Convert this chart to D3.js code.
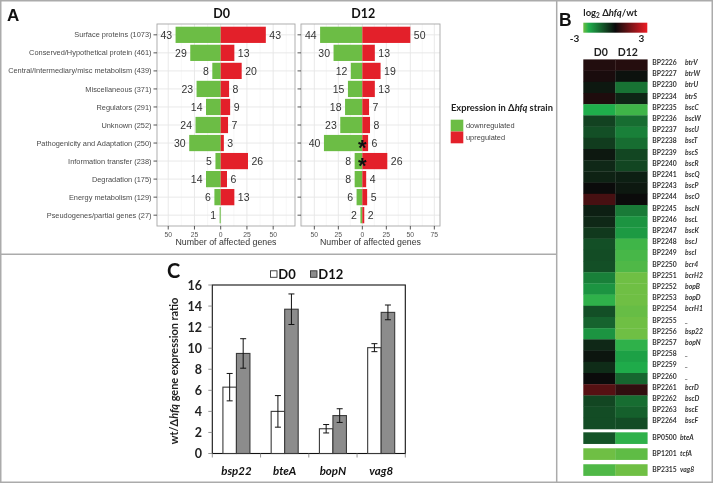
<!DOCTYPE html>
<html><head><meta charset="utf-8">
<script src="https://cdn.jsdelivr.net/npm/d3@7"></script>
<style>body{margin:0;background:#fff}svg{display:block;will-change:transform}</style>
</head><body>
<svg id="c" width="713" height="483"></svg>
<script>
// ---------- Panel A data ----------
const categories = ["Surface proteins (1073)","Conserved/Hypothetical protein (461)","Central/Intermediary/misc metabolism (439)","Miscellaneous (371)","Regulators (291)","Unknown (252)","Pathogenicity and Adaptation (250)","Information transfer (238)","Degradation (175)","Energy metabolism (129)","Pseudogenes/partial genes (27)"];
const d0Down  = [43,29,8,23,14,24,30,5,14,6,1];
const d0Up    = [43,13,20,8,9,7,3,26,6,13,0];
const d12Down = [44,30,12,15,18,23,40,8,8,6,2];
const d12Up   = [50,13,19,13,7,8,6,26,4,5,2];
const d12Stars = ["Pathogenicity and Adaptation (250)","Information transfer (238)"];
const ticksD0  = [-50,-25,0,25,50];
const ticksD12 = [-50,-25,0,25,50,75];
const legendA = ["downregulated","upregulated"];

// ---------- Panel B data ----------
const heatIds   = ["BP2226","BP2227","BP2230","BP2234","BP2235","BP2236","BP2237","BP2238","BP2239","BP2240","BP2241","BP2243","BP2244","BP2245","BP2246","BP2247","BP2248","BP2249","BP2250","BP2251","BP2252","BP2253","BP2254","BP2255","BP2256","BP2257","BP2258","BP2259","BP2260","BP2261","BP2262","BP2263","BP2264"];
const heatGenes = ["btrV","btrW","btrU","btrS","bscC","bscW","bscU","bscT","bscS","bscR","bscQ","bscP","bscO","bscN","bscL","bscK","bscJ","bscI","bcr4","bcrH2","bopB","bopD","bcrH1","_","bsp22","bopN","_","_","_","bcrD","bscD","bscE","bscF"];
const heatD0    = [0.3,0.2,-0.2,0.25,-2.5,-0.85,-1.05,-0.75,-0.2,-0.45,-0.35,0,0.8,-0.3,-0.45,-0.7,-1.05,-1.0,-1.05,-1.8,-2.1,-2.6,-1.05,-1.35,-2.1,-0.45,-0.15,-0.5,0,1.0,-0.9,-1.0,-1.0];
const heatD12   = [0.35,-0.1,-1.6,-0.4,-2.7,-1.5,-1.8,-1.5,-0.9,-0.9,-0.3,-0.2,0,-1.7,-2.1,-2.2,-2.7,-2.75,-2.8,-3,-3,-3,-2.95,-3,-3,-2.6,-2.3,-2.45,-1.4,0.5,-1.5,-1.3,-1.0];
const extraIds   = ["BP0500","BP1201","BP2315"];
const extraGenes = ["bteA","tcfA","vag8"];
const extraD0    = [-1.1,-3,-2.8];
const extraD12   = [-2.6,-2.9,-3];
const heatCols = ["D0","D12"];

// ---------- Panel C data ----------
const genesC = ["bsp22","bteA","bopN","vag8"];
const cD0     = [6.3,4.0,2.35,10.05];
const cD0Err  = [1.3,1.5,0.4,0.38];
const cD12    = [9.5,13.7,3.6,13.4];
const cD12Err = [1.4,1.45,0.65,0.7];
const cTicks  = [0,2,4,6,8,10,12,14,16];

const svg = d3.select("#c");
const SANS = "'Liberation Sans', Arial, sans-serif";
const CAL = "Lato, 'Open Sans', sans-serif";
const GREEN = "#6cbd45", RED = "#e3202a";

function measure(txt, size, weight, style, family){
  const t = svg.append("text").attr("font-family",family).attr("font-size",size)
    .attr("font-weight",weight).attr("font-style",style).text(txt);
  const w = t.node().getComputedTextLength(); t.remove(); return w;
}
function fit(txt, target, weight, style, family){ return 100*target/measure(txt,100,weight,style,family); }

svg.append("rect").attr("width",713).attr("height",483).attr("fill","#fff");

// ================= PANEL A =================
const yA = d3.scalePoint().domain(categories).range([24,226]).padding(0.6);
const stepA = yA.step(), barH = stepA*0.9;

svg.append("text").attr("x",7).attr("y",20.7).attr("font-family",SANS).attr("font-weight","bold")
  .attr("font-size",17).attr("fill","#111").text("A");

function facet(xs, down, up, ticks, title, stars, withLabels){
  const [x0,x1] = xs.range(), [dmin,dmax] = xs.domain();
  const g = svg.append("g");
  g.append("rect").attr("x",x0).attr("y",24).attr("width",x1-x0).attr("height",202).attr("fill","#fff");
  const minors = [];
  for (let v = ticks[0]-12.5; v <= dmax; v += 25) if (v >= dmin) minors.push(v);
  g.selectAll(".mn").data(minors).join("line").attr("x1",d=>xs(d)).attr("x2",d=>xs(d))
    .attr("y1",24).attr("y2",226).attr("stroke","#f2f2f2").attr("stroke-width",0.6);
  g.selectAll(".mj").data(ticks).join("line").attr("x1",d=>xs(d)).attr("x2",d=>xs(d))
    .attr("y1",24).attr("y2",226).attr("stroke","#e6e6e6").attr("stroke-width",0.9);
  g.selectAll(".hz").data(categories).join("line").attr("x1",x0).attr("x2",x1)
    .attr("y1",d=>yA(d)).attr("y2",d=>yA(d)).attr("stroke","#e6e6e6").attr("stroke-width",0.9);
  g.selectAll(".dn").data(categories).join("rect")
    .attr("x",(d,i)=>xs(-down[i])).attr("width",(d,i)=>xs(0)-xs(-down[i]))
    .attr("y",d=>yA(d)-barH/2).attr("height",barH).attr("fill",GREEN);
  g.selectAll(".up").data(categories).join("rect")
    .attr("x",xs(0)).attr("width",(d,i)=>xs(up[i])-xs(0))
    .attr("y",d=>yA(d)-barH/2).attr("height",barH).attr("fill",RED);
  g.selectAll(".ldn").data(categories).join("text")
    .attr("x",(d,i)=>xs(-down[i])-3.5).attr("y",d=>yA(d)).attr("dy","0.36em")
    .attr("text-anchor","end").attr("font-family",SANS).attr("font-size",10.5).attr("fill","#333")
    .text((d,i)=>down[i]);
  g.selectAll(".lup").data(categories.filter((d,i)=>up[i]>0)).join("text")
    .attr("x",d=>xs(up[categories.indexOf(d)])+3.5).attr("y",d=>yA(d)).attr("dy","0.36em")
    .attr("font-family",SANS).attr("font-size",10.5).attr("fill","#333")
    .text(d=>up[categories.indexOf(d)]);
  g.selectAll(".st").data(stars).join("text").attr("x",xs(0)).attr("y",d=>yA(d)+12)
    .attr("text-anchor","middle").attr("font-family",SANS).attr("font-weight","bold")
    .attr("font-size",22).attr("fill","#111").text("*");
  g.append("rect").attr("x",x0).attr("y",24).attr("width",x1-x0).attr("height",202)
    .attr("fill","none").attr("stroke","#a6a6a6").attr("stroke-width",0.9);
  g.selectAll(".yt").data(categories).join("line").attr("x1",x0-3.5).attr("x2",x0)
    .attr("y1",d=>yA(d)).attr("y2",d=>yA(d)).attr("stroke","#444").attr("stroke-width",0.9);
  if (withLabels){
    g.selectAll(".yl").data(categories).join("text").attr("x",x0-5.5).attr("y",d=>yA(d)).attr("dy","0.35em")
      .attr("text-anchor","end").attr("font-family",SANS).attr("font-size",7.4).attr("fill","#4a4a4a").text(d=>d);
  }
  g.selectAll(".xt").data(ticks).join("line").attr("x1",d=>xs(d)).attr("x2",d=>xs(d))
    .attr("y1",226).attr("y2",229.5).attr("stroke","#444").attr("stroke-width",0.9);
  g.selectAll(".xl").data(ticks).join("text").attr("x",d=>xs(d)).attr("y",237.3)
    .attr("text-anchor","middle").attr("font-family",SANS).attr("font-size",6.8).attr("fill","#555")
    .text(d=>Math.abs(d));
  g.append("text").attr("x",(x0+x1)/2).attr("y",245).attr("text-anchor","middle")
    .attr("font-family",SANS).attr("font-size",8.8).attr("fill","#333").text("Number of affected genes");
  g.append("text").attr("x",xs(0)+1).attr("y",18.3).attr("text-anchor","middle")
    .attr("font-family",CAL).attr("font-weight","bold").attr("font-size",12.5).attr("fill","#111").text(title);
}
const xD0  = d3.scaleLinear().domain([-60.7,70.8]).range([157,295]);
const xD12 = d3.scaleLinear().domain([-63.9,80.9]).range([301,440]);
facet(xD0, d0Down, d0Up, ticksD0, "D0", [], true);
facet(xD12, d12Down, d12Up, ticksD12, "D12", d12Stars, false);

// legend A
{
  const g = svg.append("g");
  const tfs = fit("Expression in Δhfq strain", 103, "bold", "normal", CAL);
  const t = g.append("text").attr("x",451).attr("y",110.5).attr("font-family",CAL).attr("font-weight","bold")
    .attr("font-size",tfs).attr("fill","#222");
  t.append("tspan").text("Expression in Δ");
  t.append("tspan").attr("font-style","italic").text("hfq");
  t.append("tspan").text(" strain");
  const ly = d3.scaleBand().domain(legendA).range([119.7,143.3]);
  g.selectAll("rect").data(legendA).join("rect").attr("x",450.7).attr("y",d=>ly(d))
    .attr("width",12.6).attr("height",ly.bandwidth()).attr("fill",(d,i)=>i?RED:GREEN);
  g.selectAll(".lt").data(legendA).join("text").attr("x",466).attr("y",d=>ly(d)+ly.bandwidth()/2)
    .attr("dy","0.35em").attr("font-family",SANS).attr("font-size",7.4).attr("fill","#444").text(d=>d);
}

// ================= PANEL B =================
const heatColor = d3.scaleLinear().domain([-3,-2.5,0,3])
  .range(["#6fbf44","#1fae4b","#0b0b0b","#ec1c24"]).clamp(true);
{
  const g = svg.append("g");
  g.append("text").attr("x",559).attr("y",26).attr("font-family",SANS).attr("font-weight","bold")
    .attr("font-size",17.5).attr("fill","#111").text("B");
  const t = g.append("text").attr("x",583.3).attr("y",15.8).attr("font-family",CAL)
    .attr("font-weight","bold").attr("font-size",9.5).attr("fill","#222");
  t.append("tspan").text("log");
  t.append("tspan").attr("font-size",6.5).attr("dy",2.5).text("2");
  t.append("tspan").attr("dy",-2.5).text(" Δ");
  t.append("tspan").attr("font-style","italic").text("hfq");
  t.append("tspan").text("/wt");
  const grad = svg.append("defs").append("linearGradient").attr("id","cb");
  const cbVals = d3.range(-3,3.01,0.5);
  grad.selectAll("stop").data(cbVals).join("stop").attr("offset",d=>((d+3)/6*100)+"%")
    .attr("stop-color",d=>heatColor(d));
  g.append("rect").attr("x",583.3).attr("y",22.7).attr("width",64).attr("height",10).attr("fill","url(#cb)");
  g.append("text").attr("x",574.5).attr("y",41.8).attr("text-anchor","middle").attr("font-family",CAL)
    .attr("font-weight","bold").attr("font-size",10).attr("fill","#222").text("-3");
  g.append("text").attr("x",641.5).attr("y",41.8).attr("text-anchor","middle").attr("font-family",CAL)
    .attr("font-weight","bold").attr("font-size",10).attr("fill","#222").text("3");

  const xh = d3.scaleBand().domain(heatCols).range([583.3,647.3]);
  g.selectAll(".hh").data(heatCols).join("text").attr("x",(d,i)=>xh(d)+xh.bandwidth()/2 + (i? -3.5 : 1.5))
    .attr("y",56).attr("text-anchor","middle").attr("font-family",CAL).attr("font-weight","bold")
    .attr("font-size",10.5).attr("fill","#222").text(d=>d);

  const yh = d3.scaleBand().domain(heatIds).range([59.4,429]);
  const cells = [];
  heatIds.forEach((id,i)=>{ cells.push({id,col:"D0",v:heatD0[i]}); cells.push({id,col:"D12",v:heatD12[i]}); });
  g.selectAll(".hc").data(cells).join("rect").attr("x",d=>xh(d.col)).attr("y",d=>yh(d.id))
    .attr("width",xh.bandwidth()+0.3).attr("height",yh.bandwidth()+0.3).attr("fill",d=>heatColor(d.v));

  const fsId = fit("BP2226", 24.5, "bold", "normal", CAL);
  const lab = d3.scaleBand().domain(heatIds).range([57,426.6]);
  g.selectAll(".hid").data(heatIds).join("text").attr("x",652.3).attr("y",d=>lab(d)+lab.bandwidth()/2)
    .attr("dy","0.36em").attr("font-family",CAL).attr("font-weight","bold").attr("font-size",fsId)
    .attr("fill","#333").text(d=>d);
  g.selectAll(".hg").data(heatIds).join("text").attr("x",685).attr("y",d=>lab(d)+lab.bandwidth()/2)
    .attr("dy","0.36em").attr("font-family",CAL).attr("font-weight","bold").attr("font-style","italic")
    .attr("font-size",fsId).attr("fill","#333").text((d,i)=>heatGenes[i]);

  const ye = d3.scaleBand().domain(extraIds).range([432.3,475.9]).paddingInner(0.27);
  const ecells = [];
  extraIds.forEach((id,i)=>{ ecells.push({id,col:"D0",v:extraD0[i]}); ecells.push({id,col:"D12",v:extraD12[i]}); });
  g.selectAll(".ec").data(ecells).join("rect").attr("x",d=>xh(d.col)).attr("y",d=>ye(d.id))
    .attr("width",xh.bandwidth()+0.3).attr("height",ye.bandwidth()).attr("fill",d=>heatColor(d.v));
  g.selectAll(".eid").data(extraIds).join("text").attr("x",652.3).attr("y",d=>ye(d)+ye.bandwidth()/2-1)
    .attr("dy","0.36em").attr("font-family",CAL).attr("font-weight","bold").attr("font-size",fsId)
    .attr("fill","#333").text(d=>d);
  g.selectAll(".eg").data(extraIds).join("text").attr("x",680).attr("y",d=>ye(d)+ye.bandwidth()/2-1)
    .attr("dy","0.36em").attr("font-family",CAL).attr("font-weight","bold").attr("font-style","italic")
    .attr("font-size",fsId).attr("fill","#333").text((d,i)=>extraGenes[i]);
}

// ================= PANEL C =================
{
  const g = svg.append("g");
  const L = 212.3, R = 405.3, T = 285, B = 453.5;
  const yC = d3.scaleLinear().domain([0,16]).range([B,T]);
  const xB = d3.scaleBand().domain(genesC).range([L,R]);
  const xC = d3.scaleBand().domain(genesC).range([L,R]).paddingInner(0.44).paddingOuter(0.22);
  const sub = d3.scaleBand().domain(["D0","D12"]).range([0,xC.bandwidth()]);

  g.append("text").attr("x",167).attr("y",277.5).attr("font-family",CAL).attr("font-weight","bold")
    .attr("font-size",20).attr("fill","#111").text("C");

  g.append("rect").attr("x",270.5).attr("y",270.8).attr("width",6.5).attr("height",6.5)
    .attr("fill","#fff").attr("stroke","#333").attr("stroke-width",0.9);
  g.append("text").attr("x",278.3).attr("y",278.6).attr("font-family",CAL).attr("font-weight","bold")
    .attr("font-size",13).attr("fill","#111").text("D0");
  g.append("rect").attr("x",310.5).attr("y",270.8).attr("width",6.5).attr("height",6.5)
    .attr("fill","#8c8c8c").attr("stroke","#333").attr("stroke-width",0.9);
  g.append("text").attr("x",318.3).attr("y",278.6).attr("font-family",CAL).attr("font-weight","bold")
    .attr("font-size",13).attr("fill","#111").text("D12");

  g.append("rect").attr("x",L).attr("y",T).attr("width",R-L).attr("height",B-T)
    .attr("fill","none").attr("stroke","#111").attr("stroke-width",1.1);

  g.selectAll(".yt").data(cTicks).join("line").attr("x1",L-4).attr("x2",L)
    .attr("y1",d=>yC(d)).attr("y2",d=>yC(d)).attr("stroke","#888").attr("stroke-width",0.9);
  g.selectAll(".yl").data(cTicks).join("text").attr("x",202).attr("y",d=>yC(d)).attr("dy","0.36em")
    .attr("text-anchor","end").attr("font-family",CAL).attr("font-weight","bold").attr("font-size",12.5)
    .attr("fill","#222").text(d=>d);
  const ttl = "wt/Δhfq gene expression ratio";
  const tfs = fit(ttl, 148, "bold", "normal", CAL);
  const yt = g.append("text").attr("transform","translate(178,371) rotate(-90)").attr("text-anchor","middle")
    .attr("font-family",CAL).attr("font-weight","bold").attr("font-size",tfs).attr("fill","#222");
  yt.append("tspan").text("wt/Δ");
  yt.append("tspan").attr("font-style","italic").text("hfq");
  yt.append("tspan").text(" gene expression ratio");

  const bounds = genesC.map(d=>xB(d)).concat([R]);
  g.selectAll(".xt").data(bounds).join("line").attr("x1",d=>d).attr("x2",d=>d)
    .attr("y1",B).attr("y2",B+4).attr("stroke","#888").attr("stroke-width",0.9);
  g.selectAll(".xl").data(genesC).join("text").attr("x",d=>xB(d)+xB.bandwidth()/2).attr("y",475)
    .attr("text-anchor","middle").attr("font-family",CAL).attr("font-weight","bold").attr("font-style","italic")
    .attr("font-size",11.5).attr("fill","#111").text(d=>d);

  const bars = [];
  genesC.forEach((gn,i)=>{
    bars.push({g:gn,s:"D0",v:cD0[i],e:cD0Err[i]});
    bars.push({g:gn,s:"D12",v:cD12[i],e:cD12Err[i]});
  });
  g.selectAll(".bar").data(bars).join("rect").attr("x",d=>xC(d.g)+sub(d.s)).attr("y",d=>yC(d.v))
    .attr("width",sub.bandwidth()).attr("height",d=>yC(0)-yC(d.v))
    .attr("fill",d=>d.s==="D0"?"#fff":"#8c8c8c").attr("stroke","#3a3a3a").attr("stroke-width",1.1);
  const cx = d=>xC(d.g)+sub(d.s)+sub.bandwidth()/2;
  const eb = g.selectAll(".eb").data(bars).join("g").attr("stroke","#111").attr("stroke-width",1);
  eb.append("line").attr("x1",cx).attr("x2",cx).attr("y1",d=>yC(d.v+d.e)).attr("y2",d=>yC(d.v-d.e));
  eb.append("line").attr("x1",d=>cx(d)-3).attr("x2",d=>cx(d)+3).attr("y1",d=>yC(d.v+d.e)).attr("y2",d=>yC(d.v+d.e));
  eb.append("line").attr("x1",d=>cx(d)-3).attr("x2",d=>cx(d)+3).attr("y1",d=>yC(d.v-d.e)).attr("y2",d=>yC(d.v-d.e));
}

// frame & dividers
{
  const f = svg.append("g").attr("stroke","#ababab").attr("stroke-width",1.5).attr("fill","none");
  f.append("rect").attr("x",0.75).attr("y",0.75).attr("width",711.5).attr("height",481.5);
  f.append("line").attr("x1",556.7).attr("x2",556.7).attr("y1",0).attr("y2",483);
  f.append("line").attr("x1",0).attr("x2",556.7).attr("y1",254.3).attr("y2",254.3);
}
</script>
</body></html>
